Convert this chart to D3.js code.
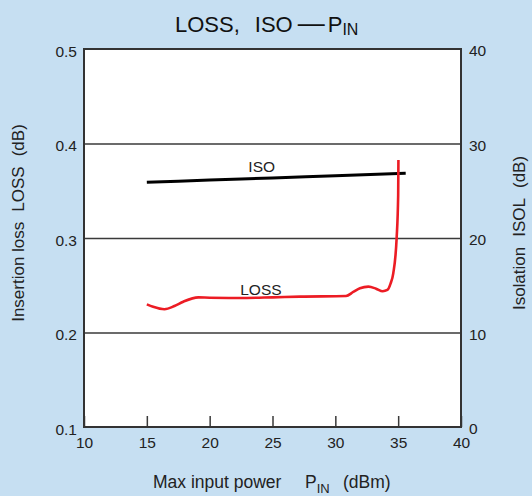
<!DOCTYPE html>
<html>
<head>
<meta charset="utf-8">
<script src="https://cdn.jsdelivr.net/npm/d3@7"></script>
<style>
  html, body { margin: 0; padding: 0; background: #c6dff2; }
  svg { display: block; font-family: "Liberation Sans", Arial, sans-serif; }
</style>
</head>
<body>
<svg id="chart" width="532" height="496"></svg>
<script>
// Max input power (dBm) vs. insertion loss (dB) and isolation (dB)
const xTicks = [10, 15, 20, 25, 30, 35, 40];
const lossTicks = [0.1, 0.2, 0.3, 0.4, 0.5];
const isoTicks = [0, 10, 20, 30, 40];

const isoPin  = [15, 20, 25, 30, 35.6];
const isoVals = [25.9, 26.13, 26.36, 26.59, 26.85];

const lossPin  = [15.0, 15.5, 16.4, 17.2, 17.9, 19.1, 20.0, 22.4, 25.0, 27.2, 30.85, 31.43, 31.96, 32.63, 33.24, 33.77, 34.14, 34.4, 34.61, 34.88, 35.0, 35.02];
const lossVals = [0.2298, 0.2272, 0.2246, 0.228, 0.2326, 0.2372, 0.2368, 0.2365, 0.2372, 0.238, 0.2386, 0.2429, 0.2468, 0.2485, 0.2464, 0.2436, 0.245, 0.252, 0.2626, 0.3003, 0.345, 0.3826];

const svg = d3.select("#chart");
const L = 84, R = 461, T = 49, B = 427;
const ink = "#222";
const font = "Liberation Sans, Arial, sans-serif";

const x  = d3.scaleLinear().domain([10, 40]).range([L, R]);
const yL = d3.scaleLinear().domain([0.1, 0.5]).range([B, T]);
const yR = d3.scaleLinear().domain([0, 40]).range([B, T]);

// plot area
svg.append("rect").attr("x", L).attr("y", T).attr("width", R - L).attr("height", B - T)
  .attr("fill", "#fff");

// horizontal grid
svg.append("g").attr("transform", `translate(${L},0)`)
  .call(d3.axisLeft(yL).tickValues([0.2, 0.3, 0.4]).tickSize(-(R - L)).tickFormat(""))
  .call(g => g.select(".domain").remove())
  .call(g => g.selectAll("line").attr("stroke", "#3a3a3a").attr("stroke-width", 1.5));

// bottom axis: inward ticks, labels below
svg.append("g").attr("transform", `translate(0,${B})`)
  .call(d3.axisBottom(x).tickValues(xTicks).tickSizeInner(-11).tickSizeOuter(0).tickPadding(10))
  .call(g => g.select(".domain").remove())
  .call(g => g.selectAll("line").attr("stroke", "#3a3a3a").attr("stroke-width", 1.5))
  .call(g => g.selectAll("text").attr("fill", ink).attr("font-size", 15.5).attr("font-family", font));

// left axis labels
svg.append("g").attr("transform", `translate(${L},0)`)
  .call(d3.axisLeft(yL).tickValues(lossTicks).tickSize(0).tickPadding(7).tickFormat(d3.format(".1f")))
  .call(g => g.select(".domain").remove())
  .call(g => g.selectAll("text").attr("fill", ink).attr("font-size", 15.5).attr("dy", "0.47em")
    .attr("font-family", font));

// right axis labels
svg.append("g").attr("transform", `translate(${R},0)`)
  .call(d3.axisRight(yR).tickValues(isoTicks).tickSize(0).tickPadding(8))
  .call(g => g.select(".domain").remove())
  .call(g => g.selectAll("text").attr("fill", ink).attr("font-size", 15.5).attr("dy", "0.45em")
    .attr("font-family", font));

// frame
svg.append("rect").attr("x", L).attr("y", T).attr("width", R - L).attr("height", B - T)
  .attr("fill", "none").attr("stroke", "#333").attr("stroke-width", 2);

// isolation curve
const isoLine = d3.line().x((d, i) => x(isoPin[i])).y(d => yR(d)).curve(d3.curveMonotoneX);
svg.append("path").attr("d", isoLine(isoVals))
  .attr("fill", "none").attr("stroke", "#000").attr("stroke-width", 3);

// insertion loss curve
const lossLine = d3.line().x((d, i) => x(lossPin[i])).y(d => yL(d)).curve(d3.curveMonotoneX);
svg.append("path").attr("d", lossLine(lossVals))
  .attr("fill", "none").attr("stroke", "#ec1c24").attr("stroke-width", 2.6)
  .attr("stroke-linejoin", "round");

// curve names
svg.append("text").attr("x", x(24.14)).attr("y", yR(27.6)).attr("dy", "0.36em")
  .attr("text-anchor", "middle").attr("font-size", 15.5).attr("fill", ink).text("ISO");
svg.append("text").attr("x", x(24.08)).attr("y", yL(0.246)).attr("dy", "0.36em")
  .attr("text-anchor", "middle").attr("font-size", 15.5).attr("fill", ink).text("LOSS");

// title
const title = svg.append("text").attr("x", 175).attr("y", 32)
  .attr("font-size", 22).attr("fill", "#111");
title.append("tspan").text("LOSS,");
title.append("tspan").attr("dx", 15).text("ISO");
title.append("tspan").attr("dx", 5).attr("font-size", 27).text("—");
title.append("tspan").attr("dx", 3).text("P");
title.append("tspan").attr("font-size", 16).attr("dy", 3).text("IN");

// x axis title
const xt = svg.append("text").attr("x", 153).attr("y", 488)
  .attr("font-size", 17.5).attr("fill", ink);
xt.append("tspan").text("Max input power");
xt.append("tspan").attr("x", 305).text("P");
xt.append("tspan").attr("font-size", 13).attr("dy", 4.5).text("IN");
xt.append("tspan").attr("x", 343).attr("dy", -4.5).text("(dBm)");

// left axis title
const lt = svg.append("text").attr("transform", "translate(24,223) rotate(-90)")
  .attr("text-anchor", "middle").attr("font-size", 17).attr("fill", ink);
lt.append("tspan").text("Insertion loss");
lt.append("tspan").attr("dx", 10).text("LOSS");
lt.append("tspan").attr("dx", 10).text("(dB)");

// right axis title
const rt = svg.append("text").attr("transform", "translate(525,233) rotate(-90)")
  .attr("text-anchor", "middle").attr("font-size", 17).attr("fill", ink);
rt.append("tspan").text("Isolation");
rt.append("tspan").attr("dx", 10).text("ISOL");
rt.append("tspan").attr("dx", 10).text("(dB)");
</script>
</body>
</html>
